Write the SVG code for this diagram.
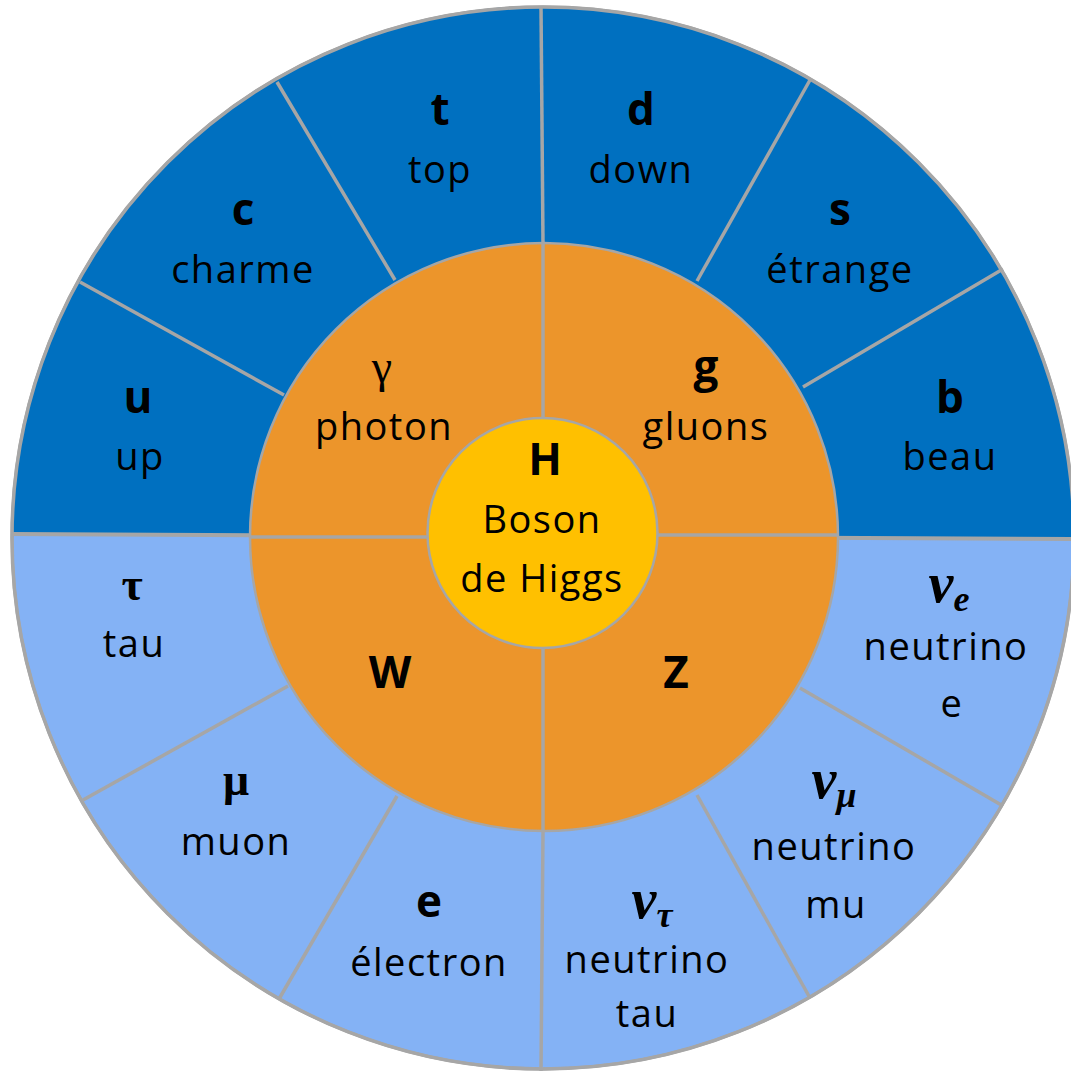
<svg xmlns="http://www.w3.org/2000/svg" width="1071" height="1074" viewBox="0 0 1071 1074">
<style>
.lbl{font-family:"Open Sans","Liberation Sans",sans-serif;font-size:38px;letter-spacing:1.5px;fill:#000;text-anchor:middle}
.sym{font-family:"Open Sans","Liberation Sans",sans-serif;font-size:44px;font-weight:bold;fill:#000;text-anchor:middle}
.gr{font-family:"Liberation Serif","DejaVu Serif",serif;font-size:46px;font-weight:bold;fill:#000;text-anchor:middle}
.nu{font-family:"Liberation Serif","DejaVu Serif",serif;font-size:56px;font-weight:bold;font-style:italic;fill:#000;text-anchor:middle}
.div{stroke:#A6A6A6;stroke-width:3.5;fill:none}
</style>
<rect width="1071" height="1074" fill="#fff"/>
<g id="rings">
<circle cx="543" cy="538" r="531" fill="#84B2F5" stroke="#A6A6A6" stroke-width="3"/>
<path d="M12,535 A531,531 0 0 1 1074,539 Z" fill="#0070C0"/>
<circle cx="543" cy="538" r="531" fill="none" stroke="#A6A6A6" stroke-width="3.5"/>
<line x1="12" y1="534" x2="1074" y2="539" stroke="#A6A6A6" stroke-width="4"/>
<circle cx="544" cy="537" r="294" fill="#EC952B" stroke="#A6A6A6" stroke-width="2.5"/>
</g>
<g id="connectors">
<line class="div" x1="80" y1="282" x2="284" y2="395"/>
<line class="div" x1="277" y1="82" x2="395" y2="280"/>
<line class="div" x1="541" y1="7" x2="543" y2="244"/>
<line class="div" x1="810" y1="80" x2="697" y2="281"/>
<line class="div" x1="1003" y1="269" x2="803" y2="387"/>
<line class="div" x1="83" y1="800" x2="288" y2="686"/>
<line class="div" x1="279" y1="999" x2="397" y2="796"/>
<line class="div" x1="543" y1="831" x2="541" y2="1071"/>
<line class="div" x1="697" y1="795" x2="810" y2="998"/>
<line class="div" x1="800" y1="688" x2="1003" y2="806"/>
<line class="div" x1="543" y1="244" x2="543" y2="420"/>
<line class="div" x1="543" y1="648" x2="543" y2="831"/>
<line class="div" x1="250" y1="537" x2="428" y2="537"/>
<line class="div" x1="657" y1="535" x2="838" y2="535"/>
</g>
<g id="higgs">
<circle cx="542.5" cy="533" r="115" fill="#FFC000" stroke="#A6A6A6" stroke-width="2.5"/>
<text class="sym" x="545" y="475">H</text>
<text class="lbl" x="542" y="533">Boson</text>
<text class="lbl" x="542" y="592">de Higgs</text>
</g>
<g id="top"><text class="sym" x="440" y="125">t</text><text class="lbl" x="440" y="183">top</text></g>
<g id="down"><text class="sym" x="641" y="125">d</text><text class="lbl" x="641" y="183">down</text></g>
<g id="charme"><text class="sym" x="243" y="225">c</text><text class="lbl" x="243" y="283">charme</text></g>
<g id="etrange"><text class="sym" x="840" y="225">s</text><text class="lbl" x="840" y="283">étrange</text></g>
<g id="up"><text class="sym" x="138" y="413">u</text><text class="lbl" x="140" y="470">up</text></g>
<g id="beau"><text class="sym" x="950" y="413">b</text><text class="lbl" x="950" y="470">beau</text></g>
<g id="photon"><text x="382" y="382" font-family="Liberation Serif,DejaVu Serif,serif" font-size="46" text-anchor="middle">γ</text><text class="lbl" x="384" y="440">photon</text></g>
<g id="gluons"><text class="sym" x="706" y="382">g</text><text class="lbl" x="706" y="440">gluons</text></g>
<g id="W"><text class="sym" x="390" y="688">W</text></g>
<g id="Z"><text class="sym" x="676" y="688">Z</text></g>
<g id="tau"><text class="gr" x="132" y="600">τ</text><text class="lbl" x="134" y="657">tau</text></g>
<g id="muon"><text class="gr" x="236" y="795">μ</text><text class="lbl" x="236" y="855">muon</text></g>
<g id="electron"><text class="sym" x="429" y="917">e</text><text class="lbl" x="429" y="976">électron</text></g>
<g id="nutau"><text class="nu" x="652" y="918">ν<tspan font-size="36" dy="9">τ</tspan></text><text class="lbl" x="647" y="973">neutrino</text><text class="lbl" x="647" y="1027">tau</text></g>
<g id="numu"><text class="nu" x="834" y="798">ν<tspan font-size="36" dy="9">μ</tspan></text><text class="lbl" x="834" y="860">neutrino</text><text class="lbl" x="836" y="918">mu</text></g>
<g id="nue"><text class="nu" x="949" y="602">ν<tspan font-size="36" dy="9">e</tspan></text><text class="lbl" x="946" y="660">neutrino</text><text class="lbl" x="952" y="717">e</text></g>
</svg>
